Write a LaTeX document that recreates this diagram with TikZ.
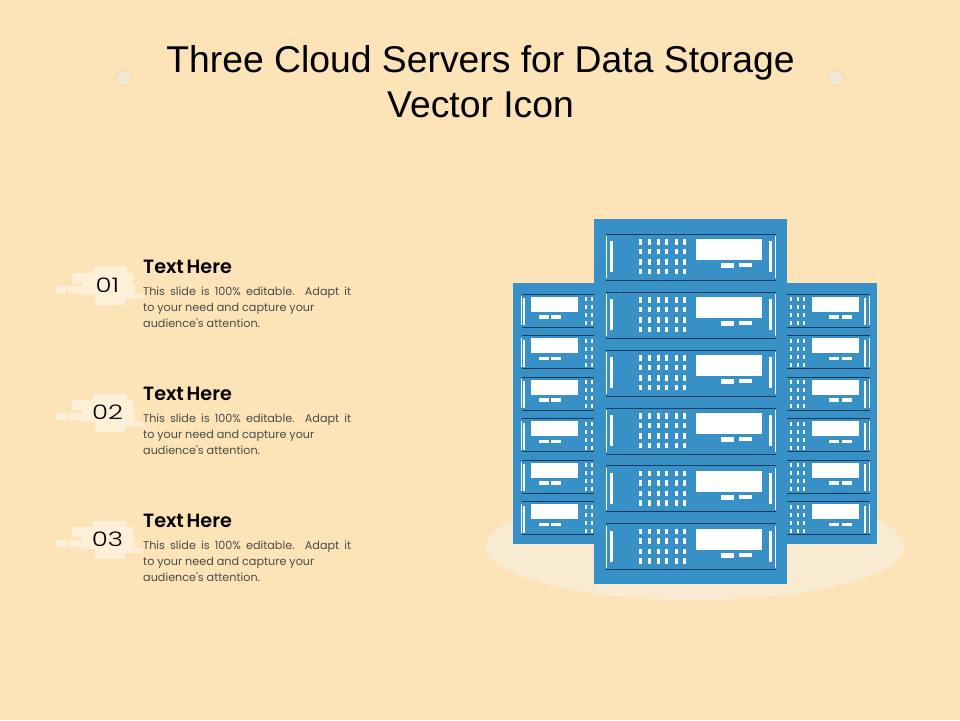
\documentclass[tikz,border=0pt]{standalone}
\usepackage{fontspec}
\setmainfont{Liberation Sans}
\newfontfamily\geo{Poppins}
\newfontfamily\geolight{Poppins Light}
\newfontfamily\geosemi[WordSpace=0.6]{Poppins SemiBold}
\definecolor{bgc}{HTML}{FDE4B8}
\definecolor{rack}{HTML}{3790C6}
\definecolor{edge}{HTML}{12395E}
\definecolor{halo}{HTML}{F8EBD2}
\definecolor{badge}{HTML}{FEF0D8}
\definecolor{rule}{HTML}{F5DDB0}
\definecolor{ink}{HTML}{000000}
\definecolor{body}{HTML}{4A4A4A}
\tikzset{
  wt/.style={fill=white,draw=none},
  rk/.style={fill=rack,draw=none},
  bd/.style={fill=badge,draw=none},
  dl/.style={draw=edge,line width=0.9pt},
  tl/.style={draw=white,line width=0.6pt},
  titlet/.style={anchor=center,align=center,font=\fontsize{37.3}{44.5}\selectfont,text=ink,inner sep=0pt},
  headt/.style={anchor=base west,font=\geosemi\fontsize{19.2}{20}\selectfont,text=ink,inner sep=0pt},
  bodyt/.style={anchor=north west,align=left,font=\geo\fontsize{11.2}{16}\selectfont,text=body,inner sep=0pt},
  numt/.style={anchor=center,font=\geolight\fontsize{20}{20}\selectfont,text=ink,inner sep=0pt},
  knob/.style={circle,minimum size=15pt,inner sep=0pt,fill=white!55!bgc!90!gray,draw=rule,line width=1.5pt}
}
\newcommand{\bigunit}[2]{%
  \begin{scope}[shift={(#1,#2)}]
    \draw[dl] (0,0)--(169.5,0);
    \draw[dl] (0,46)--(169.5,46);
    \draw[tl] (0,2)--(0,44);
    \draw[tl] (169.5,2)--(169.5,44);
    \fill[wt] (4,7) rectangle (7,38);
    \fill[wt] (163,7) rectangle (165.5,38);
    \foreach \dx in {33,42,50.7,59,68.7,77}
      \foreach \dy in {5,14.5,25,34.5}
        \fill[wt] (\dx,\dy) rectangle ++(3,5.5);
    \fill[wt] (90,5) rectangle (156,26);
    \fill[wt] (115,29) rectangle (128,34);
    \fill[wt] (133,29) rectangle (146,33);
  \end{scope}}
\newcommand{\leftunit}[2]{%
  \begin{scope}[shift={(#1,#2)}]
    \draw[dl] (0,0)--(73,0);
    \draw[dl] (0,33)--(73,33);
    \draw[tl] (0,2)--(0,31);
    \fill[wt] (1.8,4) rectangle (3.4,31);
    \foreach \dx in {63.5,69.5}
      \foreach \dy in {3,11,19,27}
        \fill[wt] (\dx,\dy) rectangle ++(2,4);
    \fill[wt] (9.5,2.5) rectangle (56.5,17.5);
    \fill[wt] (17,21) rectangle (27,24.2);
    \fill[wt] (29.5,21) rectangle (39.5,24.2);
  \end{scope}}
\newcommand{\rightunit}[2]{%
  \begin{scope}[shift={(#1,#2)}]
    \draw[dl] (0,0)--(82.5,0);
    \draw[dl] (0,33)--(82.5,33);
    \draw[tl] (82.5,2)--(82.5,31);
    \fill[wt] (77,4) rectangle (79,31);
    \foreach \dx in {3,9.7,16.3}
      \foreach \dy in {3,11,19,27}
        \fill[wt] (\dx,\dy) rectangle ++(2,4);
    \fill[wt] (25,2.5) rectangle (72,17.5);
    \fill[wt] (42,21) rectangle (52,24.2);
    \fill[wt] (55,21) rectangle (65,24.2);
  \end{scope}}
\newcommand{\blockbadge}[2]{%
  \begin{scope}[shift={(#1,#2)}]
    \fill[bd] (-14,-18) rectangle (20,-12);
    \fill[bd] (-35,-12) rectangle (26,-2);
    \fill[bd] (-25,-2) rectangle (28,10);
    \fill[bd] (-12,10) rectangle (18,20);
    \fill[bd] (-51,1) rectangle (-41,8);
    \fill[bd] (-39,1) rectangle (-25,8);
    \fill[bd] (13,9) rectangle (36,14);
  \end{scope}}
\begin{document}
\begin{tikzpicture}[x=1pt,y=-1pt]
\useasboundingbox (0,0) rectangle (960,720);
\fill[bgc] (0,0) rectangle (960,720);
% header rule
\coordinate (ruleL) at (0,78);
\coordinate (ruleR) at (960,78);
\node[knob] (knobL) at (124,78) {};
\node[knob] (knobR) at (836,78) {};
\draw[rule,line width=1pt] (ruleL) -- (knobL);
\draw[rule,line width=1pt] (knobR) -- (ruleR);
\node[titlet] (title) at (480.5,81.5) {Three Cloud Servers for Data Storage\\Vector Icon};
% halo
\fill[halo] (695,546.5) ellipse [x radius=209,y radius=53.5];
% racks
\fill[rk] (513,283) rectangle (600,544);
\fill[rk] (780,283) rectangle (877,544);
\foreach \i in {0,...,5} {
  \leftunit{521.5}{294.3+41.5*\i}
  \rightunit{787}{294.3+41.5*\i}
}
\fill[rk] (594,219) rectangle (787,584);
\foreach \i in {0,...,5} {
  \bigunit{606}{234.3+57.9*\i}
}
% items
\blockbadge{107}{285}
\blockbadge{107}{412}
\blockbadge{107}{539}
\node[numt] (n1) at (107.5,285) {\scalebox{1.3}[1]{01}};
\node[numt] (n2) at (107.5,412) {\scalebox{1.3}[1]{02}};
\node[numt] (n3) at (107.5,539) {\scalebox{1.3}[1]{03}};
\foreach \nm/\y in {a/273,b/400,c/527} {
  \node[headt] (h\nm) at (143,\y) {Text Here};
  \node[bodyt] (t\nm) at (143,\y+13.5) {\makebox[208pt][s]{This slide is 100\% editable. Adapt it}\\to your need and capture your\\audience's attention.};
}
\end{tikzpicture}
\end{document}
